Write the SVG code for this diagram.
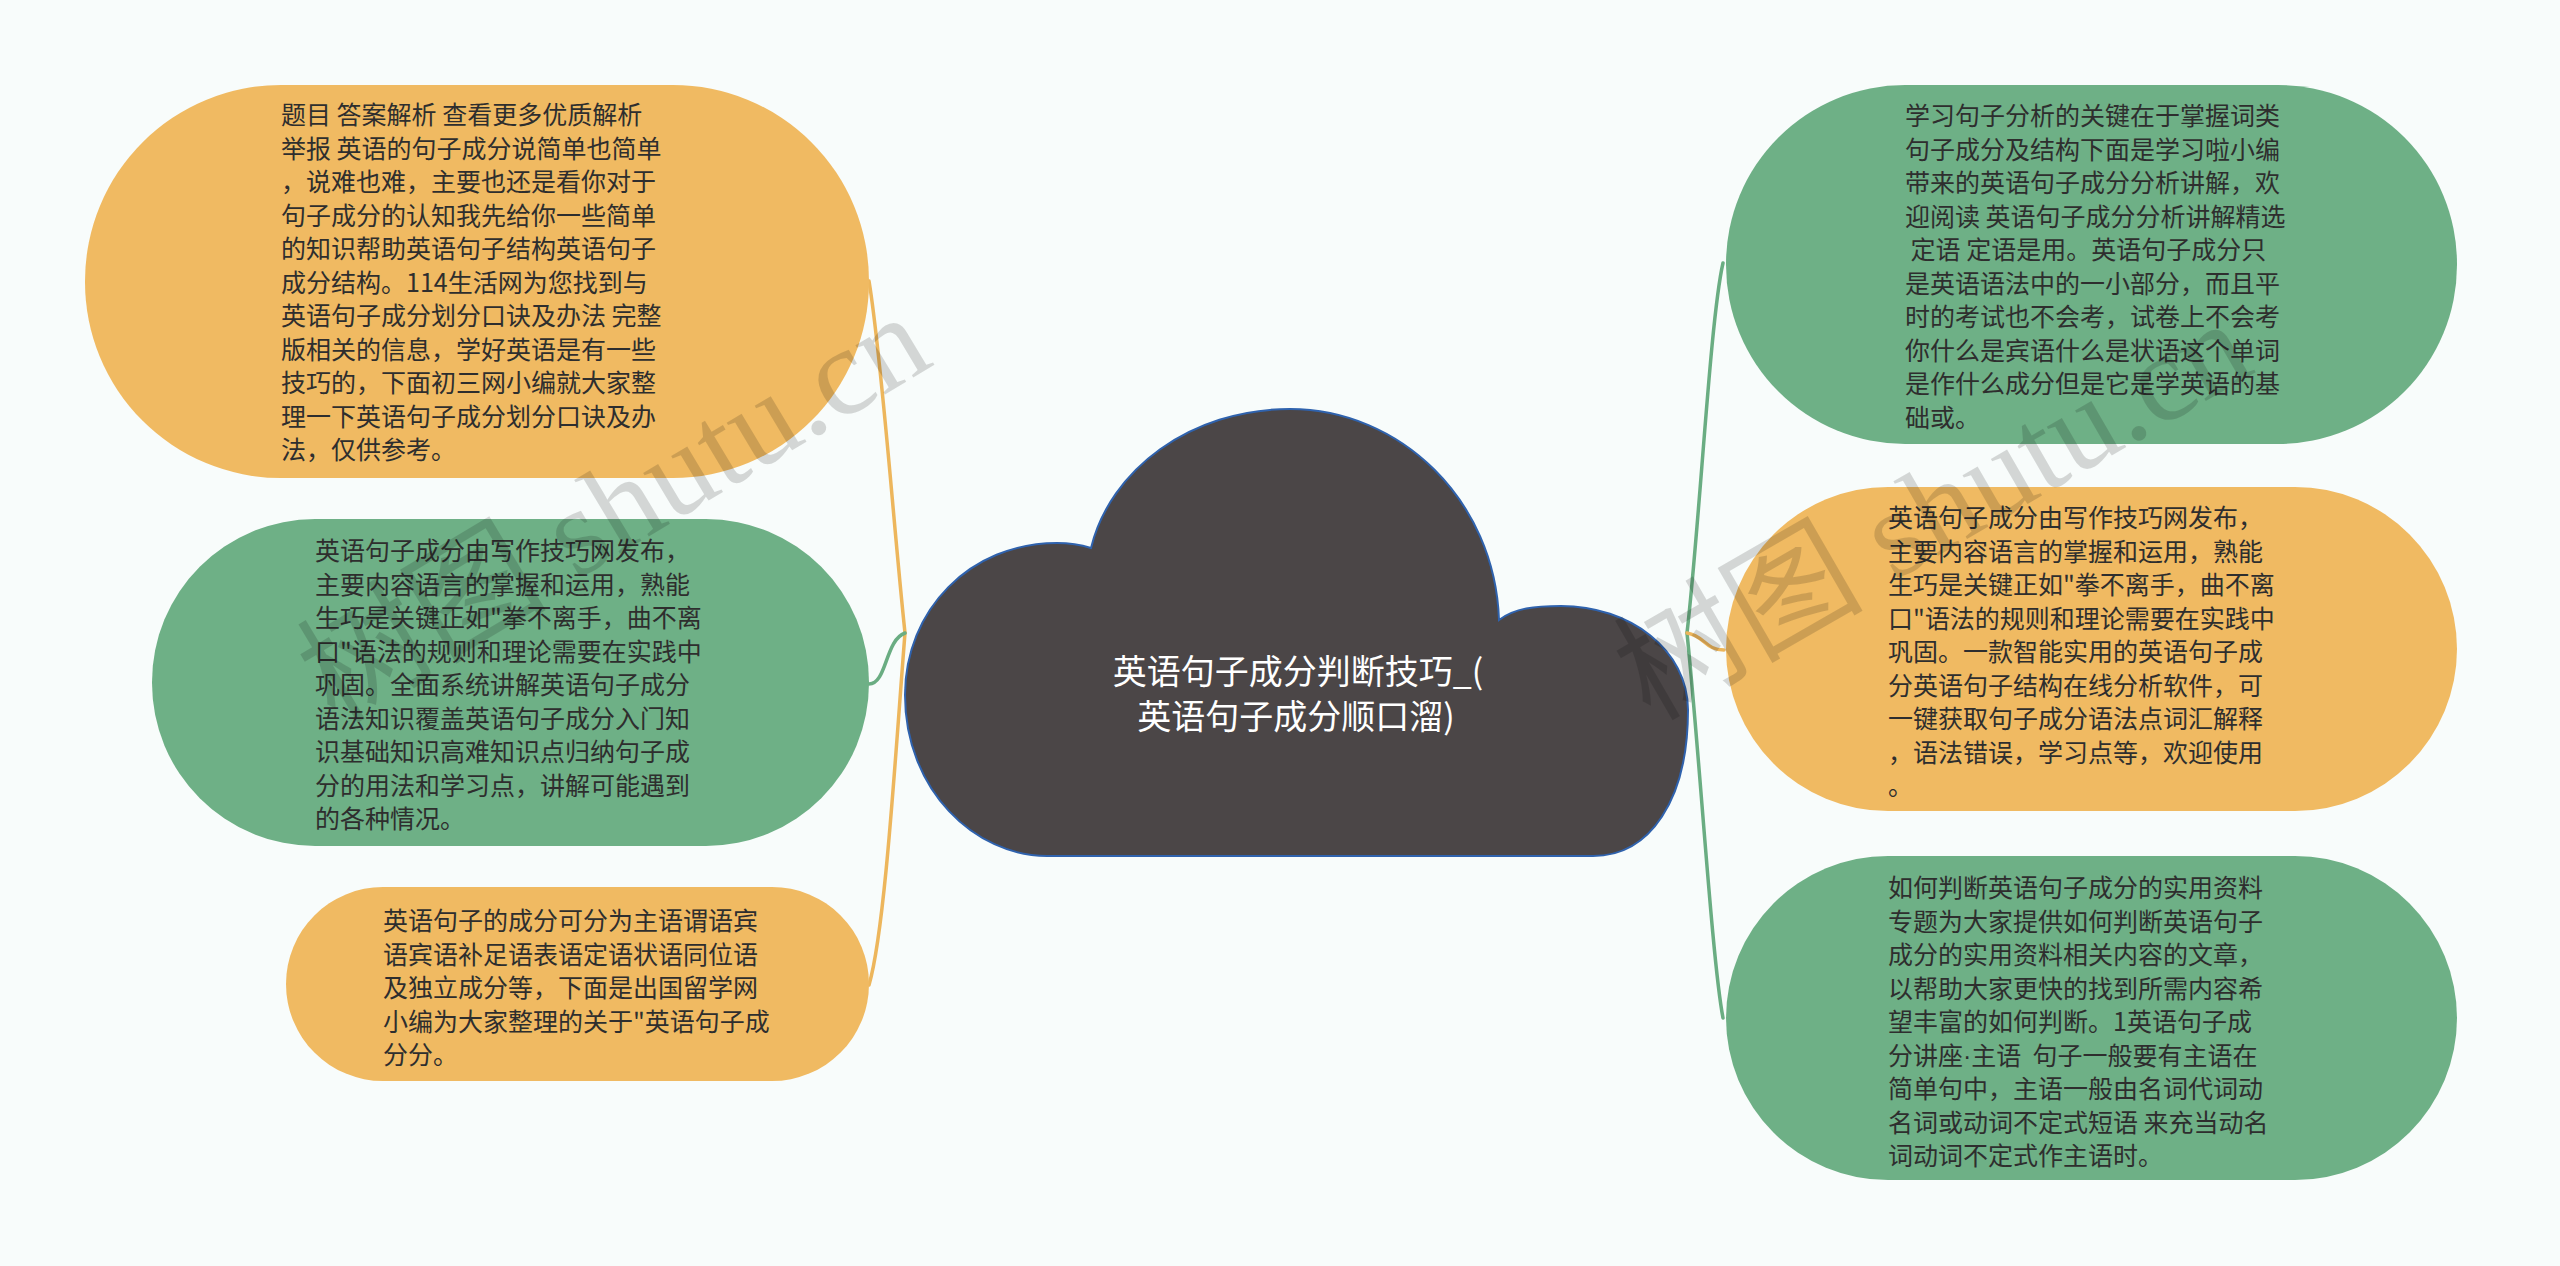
<svg xmlns="http://www.w3.org/2000/svg" width="2560" height="1266" viewBox="0 0 2560 1266">
<style>
.bg{fill:#f8fcfb}
.org{fill:#f0ba62}
.grn{fill:#6eb086}
.t{font-family:"Noto Sans CJK SC","Microsoft YaHei",sans-serif;font-size:25px;fill:#2e2e2e;white-space:pre}
.ct{font-family:"Noto Sans CJK SC",sans-serif;font-size:34px;fill:#ffffff;text-anchor:middle}
.lo{fill:none;stroke:#edb65c;stroke-width:3.5;stroke-linecap:round}
.lg{fill:none;stroke:#6aad82;stroke-width:3.5;stroke-linecap:round}
.wm{font-family:"Liberation Serif","Noto Sans CJK SC",serif;font-size:125px;fill:#000000;fill-opacity:0.15}
</style>
<rect class="bg" x="0" y="0" width="2560" height="1266"/>
<g id="connectors">
<path class="lo" d="M905 633 C893 520 882 360 869 281"/>
<path class="lo" d="M905 633 C895 760 885 930 869 985"/>
<path class="lg" d="M905 633 C885 640 887 684 869 684"/>
<path class="lg" d="M1687 633 C1700 520 1710 320 1723 263"/>
<path class="lg" d="M1687 633 C1700 760 1712 960 1723 1018"/>
<path class="lo" d="M1687 633 C1705 636 1705 650 1724 650"/>
</g>
<g id="root">
<path d="M1047 856 C975 856 905 790 905 695 C905 610 970 543 1057 543 Q1075 543 1091 548 C1110 470 1190 409 1290 409 C1400 409 1495 500 1499 620 C1515 608 1535 606 1561 606 C1630 606 1688 650 1688 710 C1688 800 1650 856 1593 856 Z" fill="#4b4647" stroke="#2f62ad" stroke-width="2"/>
<text class="ct" x="1298" y="684">英语句子成分判断技巧_(</text>
<text class="ct" x="1296" y="729">英语句子成分顺口溜)</text>
</g>
<g id="node-l1">
<rect class="org" x="85" y="85" width="784" height="393" rx="196" ry="196"/>
<text class="t" x="281" y="124">题目 答案解析 查看更多优质解析</text>
<text class="t" x="281" y="157.5">举报 英语的句子成分说简单也简单</text>
<text class="t" x="281" y="191">，说难也难，主要也还是看你对于</text>
<text class="t" x="281" y="224.5">句子成分的认知我先给你一些简单</text>
<text class="t" x="281" y="258">的知识帮助英语句子结构英语句子</text>
<text class="t" x="281" y="291.5">成分结构。114生活网为您找到与</text>
<text class="t" x="281" y="325">英语句子成分划分口诀及办法 完整</text>
<text class="t" x="281" y="358.5">版相关的信息，学好英语是有一些</text>
<text class="t" x="281" y="392">技巧的，下面初三网小编就大家整</text>
<text class="t" x="281" y="425.5">理一下英语句子成分划分口诀及办</text>
<text class="t" x="281" y="459">法，仅供参考。</text>
</g>
<g id="node-l2">
<rect class="grn" x="152" y="519" width="717" height="327" rx="163" ry="163"/>
<text class="t" x="315" y="560">英语句子成分由写作技巧网发布，</text>
<text class="t" x="315" y="593.5">主要内容语言的掌握和运用，熟能</text>
<text class="t" x="315" y="627">生巧是关键正如"拳不离手，曲不离</text>
<text class="t" x="315" y="660.5">口"语法的规则和理论需要在实践中</text>
<text class="t" x="315" y="694">巩固。全面系统讲解英语句子成分</text>
<text class="t" x="315" y="727.5">语法知识覆盖英语句子成分入门知</text>
<text class="t" x="315" y="761">识基础知识高难知识点归纳句子成</text>
<text class="t" x="315" y="794.5">分的用法和学习点，讲解可能遇到</text>
<text class="t" x="315" y="828">的各种情况。</text>
</g>
<g id="node-l3">
<rect class="org" x="286" y="887" width="583" height="194" rx="97" ry="97"/>
<text class="t" x="383" y="930">英语句子的成分可分为主语谓语宾</text>
<text class="t" x="383" y="963.5">语宾语补足语表语定语状语同位语</text>
<text class="t" x="383" y="997">及独立成分等，下面是出国留学网</text>
<text class="t" x="383" y="1030.5">小编为大家整理的关于"英语句子成</text>
<text class="t" x="383" y="1064">分分。</text>
</g>
<g id="node-r1">
<rect class="grn" x="1726" y="85" width="731" height="359" rx="179" ry="179"/>
<text class="t" x="1905" y="125">学习句子分析的关键在于掌握词类</text>
<text class="t" x="1905" y="158.5">句子成分及结构下面是学习啦小编</text>
<text class="t" x="1905" y="192">带来的英语句子成分分析讲解，欢</text>
<text class="t" x="1905" y="225.5">迎阅读 英语句子成分分析讲解精选</text>
<text class="t" x="1905" y="259"> 定语 定语是用。英语句子成分只</text>
<text class="t" x="1905" y="292.5">是英语语法中的一小部分，而且平</text>
<text class="t" x="1905" y="326">时的考试也不会考，试卷上不会考</text>
<text class="t" x="1905" y="359.5">你什么是宾语什么是状语这个单词</text>
<text class="t" x="1905" y="393">是作什么成分但是它是学英语的基</text>
<text class="t" x="1905" y="426.5">础或。</text>
</g>
<g id="node-r2">
<rect class="org" x="1726" y="487" width="731" height="324" rx="162" ry="162"/>
<text class="t" x="1888" y="527">英语句子成分由写作技巧网发布，</text>
<text class="t" x="1888" y="560.5">主要内容语言的掌握和运用，熟能</text>
<text class="t" x="1888" y="594">生巧是关键正如"拳不离手，曲不离</text>
<text class="t" x="1888" y="627.5">口"语法的规则和理论需要在实践中</text>
<text class="t" x="1888" y="661">巩固。一款智能实用的英语句子成</text>
<text class="t" x="1888" y="694.5">分英语句子结构在线分析软件，可</text>
<text class="t" x="1888" y="728">一键获取句子成分语法点词汇解释</text>
<text class="t" x="1888" y="761.5">，语法错误，学习点等，欢迎使用</text>
<text class="t" x="1888" y="795">。</text>
</g>
<g id="node-r3">
<rect class="grn" x="1726" y="856" width="731" height="324" rx="162" ry="162"/>
<text class="t" x="1888" y="897">如何判断英语句子成分的实用资料</text>
<text class="t" x="1888" y="930.5">专题为大家提供如何判断英语句子</text>
<text class="t" x="1888" y="964">成分的实用资料相关内容的文章，</text>
<text class="t" x="1888" y="997.5">以帮助大家更快的找到所需内容希</text>
<text class="t" x="1888" y="1031">望丰富的如何判断。1英语句子成</text>
<text class="t" x="1888" y="1064.5">分讲座<tspan font-family="Liberation Sans">·</tspan>主语  句子一般要有主语在</text>
<text class="t" x="1888" y="1098">简单句中，主语一般由名词代词动</text>
<text class="t" x="1888" y="1131.5">名词或动词不定式短语 来充当动名</text>
<text class="t" x="1888" y="1165">词动词不定式作主语时。</text>
</g>
<g id="watermarks">
<text class="wm" transform="translate(335 725) rotate(-31)">树图 shutu.cn</text>
<text class="wm" transform="translate(1650 722) rotate(-30)">树图 shutu.cn</text>
</g>
</svg>
